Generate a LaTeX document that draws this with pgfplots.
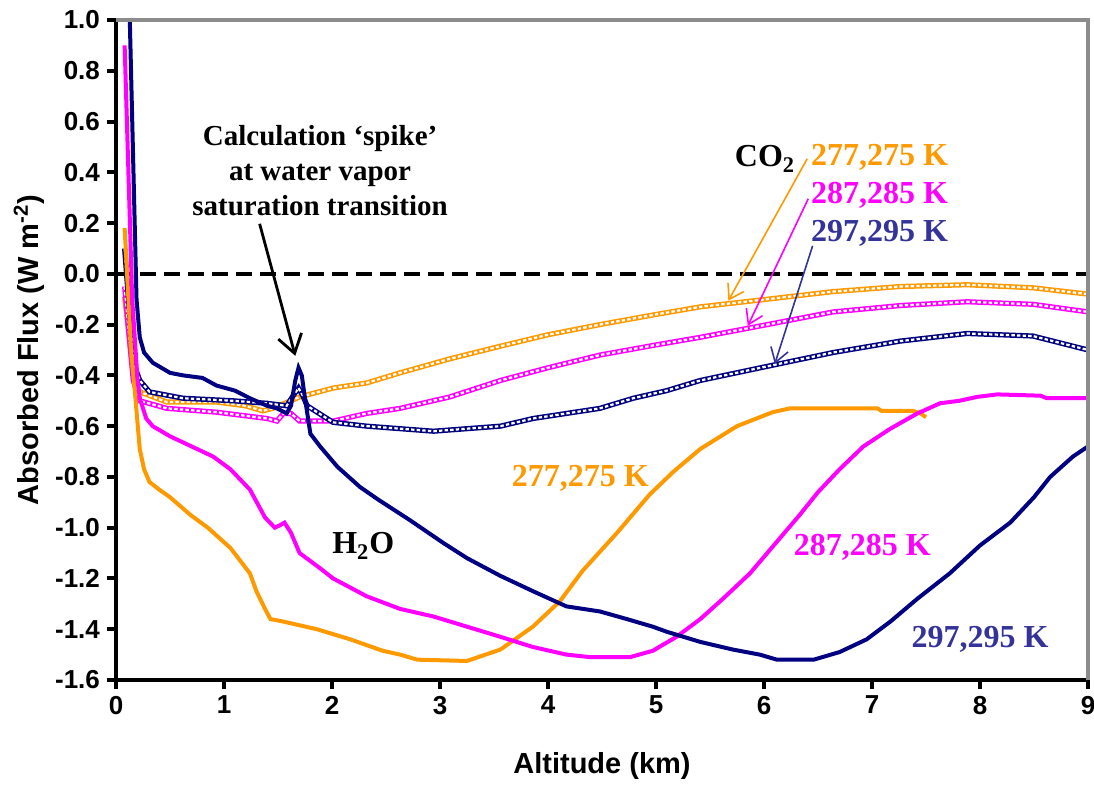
\documentclass[border=0pt]{standalone}
\usepackage{pgfplots}
\usepackage{pgfplotstable}
\pgfplotsset{compat=1.18}
\usepackage{fontspec}
\setmainfont{Liberation Serif}
\newfontfamily\arial{Liberation Sans}
\usetikzlibrary{arrows.meta}
\definecolor{cOr}{HTML}{FF9900}
\definecolor{cMa}{HTML}{FF00FF}
\definecolor{cNv}{HTML}{000080}
\definecolor{cBl}{HTML}{333399}
\definecolor{cFr}{HTML}{8C8C8C}
\pgfplotsset{
  h2o/.style={line width=2pt, mark=none},
  chain/.style={line width=2.6pt, mark=none},
  chainin/.style={white, line width=1.1pt, mark=none, dash pattern=on 1.7pt off 1.1pt},
}
\pgfplotstableread{
x y
0.08 -0.09
0.16 -0.40
0.22 -0.465
0.47 -0.505
0.93 -0.505
1.2 -0.52
1.36 -0.54
1.45 -0.53
1.70 -0.485
2.01 -0.45
2.32 -0.43
2.63 -0.39
3.09 -0.335
3.56 -0.285
4.0 -0.24
4.48 -0.20
5.0 -0.16
5.41 -0.13
6.03 -0.10
6.64 -0.07
7.26 -0.05
7.88 -0.043
8.49 -0.055
9.0 -0.08
}\coOr
\pgfplotstableread{
x y
0.08 -0.05
0.16 -0.42
0.22 -0.50
0.47 -0.53
0.93 -0.545
1.40 -0.57
1.49 -0.58
1.55 -0.55
1.62 -0.55
1.70 -0.58
2.01 -0.58
2.32 -0.55
2.63 -0.53
3.09 -0.485
3.56 -0.42
4.0 -0.37
4.48 -0.32
5.0 -0.28
5.41 -0.25
6.03 -0.20
6.64 -0.15
7.26 -0.125
7.88 -0.11
8.49 -0.12
9.0 -0.15
}\coMa
\pgfplotstableread{
x y
0.08 0.10
0.16 -0.35
0.22 -0.42
0.31 -0.465
0.62 -0.49
1.08 -0.50
1.40 -0.51
1.58 -0.52
1.64 -0.48
1.69 -0.45
1.73 -0.48
1.77 -0.52
2.01 -0.585
2.32 -0.60
2.63 -0.61
2.94 -0.62
3.25 -0.61
3.56 -0.60
3.86 -0.57
4.17 -0.55
4.48 -0.53
4.79 -0.49
5.1 -0.46
5.41 -0.42
6.08 -0.36
6.64 -0.31
7.26 -0.265
7.88 -0.235
8.49 -0.245
9.0 -0.30
}\coNv
\begin{document}
\begin{tikzpicture}
\begin{axis}[
  name=ax,
  at={(0,0)}, anchor=south west,
  scale only axis, width=486pt, height=330pt,
  xmin=0, xmax=9, ymin=-1.6, ymax=1.0,
  axis x line*=bottom, axis y line*=left,
  axis line style={-, line width=2.4pt, black},
  xtick={0,1,...,9},
  ytick={-1.6,-1.4,...,1.0},
  tick align=outside,
  major tick length=4.5pt,
  every tick/.style={black, line width=2pt},
  /pgf/number format/assume math mode=true,
  ticklabel style={font=\arial\bfseries\fontsize{13}{15}\selectfont},
  yticklabel style={/pgf/number format/.cd, fixed, fixed zerofill, precision=1},
  every axis y label/.style={at={(axis description cs:0,0.5)}, xshift=-43.5pt, rotate=90, anchor=center},
  every axis x label/.style={at={(axis description cs:0.5,0)}, yshift=-43pt, anchor=center},
  label style={font=\arial\bfseries\fontsize{14.5}{17}\selectfont},
  xlabel={Altitude (km)},
  ylabel={Absorbed Flux (W m\textsuperscript{-2})},
]
% zero line
\addplot[black, line width=2pt, dash pattern=on 8pt off 4pt] coordinates {(0,0) (9,0)};
% CO2 curves (chain style)
\addplot[cOr, chain] table[x=x,y=y] {\coOr};
\addplot[chainin] table[x=x,y=y] {\coOr};
\addplot[cMa, chain] table[x=x,y=y] {\coMa};
\addplot[chainin] table[x=x,y=y] {\coMa};
\addplot[cNv, chain] table[x=x,y=y] {\coNv};
\addplot[chainin] table[x=x,y=y] {\coNv};
% H2O curves (solid)
\addplot[cOr, h2o] coordinates {
(0.08,0.18) (0.14,-0.3) (0.18,-0.49) (0.22,-0.69) (0.26,-0.77) (0.31,-0.82) (0.4,-0.85) (0.5,-0.88)
(0.69,-0.95) (0.85,-1.0) (1.06,-1.08) (1.24,-1.18) (1.30,-1.25) (1.38,-1.32) (1.43,-1.36) (1.55,-1.37)
(1.86,-1.40) (2.17,-1.44) (2.47,-1.485) (2.63,-1.50) (2.79,-1.52) (3.25,-1.525) (3.56,-1.48) (3.86,-1.39)
(4.11,-1.29) (4.32,-1.17) (4.64,-1.02) (4.94,-0.87) (5.16,-0.78) (5.41,-0.69) (5.75,-0.60) (6.08,-0.545)
(6.24,-0.53) (7.05,-0.53) (7.09,-0.54) (7.38,-0.54) (7.45,-0.55) (7.5,-0.565)};
\addplot[cMa, h2o] coordinates {
(0.08,0.9) (0.15,-0.1) (0.2,-0.42) (0.22,-0.49) (0.28,-0.57) (0.34,-0.60) (0.5,-0.64) (0.75,-0.69)
(0.9,-0.72) (1.06,-0.77) (1.24,-0.85) (1.38,-0.96) (1.47,-1.00) (1.52,-0.99) (1.56,-0.98) (1.62,-1.02)
(1.70,-1.10) (1.89,-1.16) (2.01,-1.20) (2.32,-1.27) (2.63,-1.32) (2.94,-1.35) (3.25,-1.39) (3.56,-1.43)
(3.86,-1.47) (4.17,-1.50) (4.39,-1.51) (4.76,-1.51) (4.97,-1.485) (5.19,-1.43) (5.41,-1.36) (5.62,-1.28)
(5.87,-1.18) (6.15,-1.04) (6.33,-0.95) (6.50,-0.86) (6.70,-0.77) (6.92,-0.68) (7.17,-0.61) (7.42,-0.55)
(7.63,-0.51) (7.81,-0.50) (7.97,-0.485) (8.16,-0.475) (8.56,-0.48) (8.62,-0.49) (9.0,-0.49)};
\addplot[cNv, h2o] coordinates {
(0.125,1.05) (0.19,-0.1) (0.22,-0.25) (0.26,-0.31) (0.34,-0.35) (0.5,-0.39) (0.62,-0.40) (0.8,-0.41)
(0.93,-0.44) (1.1,-0.46) (1.24,-0.49) (1.4,-0.52) (1.49,-0.53) (1.58,-0.55) (1.62,-0.52) (1.66,-0.42)
(1.69,-0.37) (1.72,-0.40) (1.75,-0.49) (1.80,-0.63) (1.89,-0.68) (2.05,-0.76) (2.26,-0.84) (2.43,-0.89)
(2.72,-0.97) (3.03,-1.06) (3.25,-1.12) (3.56,-1.19) (3.86,-1.25) (4.17,-1.31) (4.48,-1.33) (4.73,-1.36)
(4.97,-1.39) (5.10,-1.41) (5.41,-1.45) (5.71,-1.48) (5.96,-1.50) (6.12,-1.52) (6.46,-1.52) (6.70,-1.49)
(6.95,-1.44) (7.17,-1.37) (7.42,-1.28) (7.72,-1.18) (8.0,-1.07) (8.28,-0.98) (8.5,-0.88) (8.65,-0.80)
(8.86,-0.72) (9.0,-0.68)};
% annotations
\node[align=center, font=\bfseries\fontsize{14.5}{17.5}\selectfont] at (axis cs:1.89,0.406)
  {Calculation ‘spike’\\at water vapor\\saturation transition};
\draw[black, line width=1.4pt, -{Straight Barb[length=9pt,width=12pt]}] (axis cs:1.33,0.197) -- (axis cs:1.66,-0.323);
\node[font=\bfseries\fontsize{16}{19}\selectfont] at (axis cs:6.01,0.453) {CO\textsubscript{2}};
\node[cOr, font=\bfseries\fontsize{16}{19}\selectfont] at (axis cs:7.07,0.457) {277,275 K};
\node[cMa, font=\bfseries\fontsize{16}{19}\selectfont] at (axis cs:7.07,0.311) {287,285 K};
\node[cBl, font=\bfseries\fontsize{16}{19}\selectfont] at (axis cs:7.07,0.158) {297,295 K};
\draw[cOr, line width=0.8pt, -{Straight Barb[length=7pt,width=9pt]}] (axis cs:6.40,0.453) -- (axis cs:5.67,-0.106);
\draw[cMa, line width=0.8pt, -{Straight Barb[length=7pt,width=9pt]}] (axis cs:6.41,0.296) -- (axis cs:5.85,-0.205);
\draw[cBl, line width=0.8pt, -{Straight Barb[length=7pt,width=9pt]}] (axis cs:6.45,0.110) -- (axis cs:6.10,-0.355);
\node[font=\bfseries\fontsize{16}{19}\selectfont] at (axis cs:2.29,-1.072) {H\textsubscript{2}O};
\node[cOr, font=\bfseries\fontsize{16}{19}\selectfont] at (axis cs:4.30,-0.804) {277,275 K};
\node[cMa, font=\bfseries\fontsize{16}{19}\selectfont] at (axis cs:6.91,-1.076) {287,285 K};
\node[cBl, font=\bfseries\fontsize{16}{19}\selectfont] at (axis cs:8.0,-1.442) {297,295 K};
\end{axis}
\draw[cFr, line width=2.2pt] (ax.north west) -- (ax.north east) -- (ax.south east);
\pgfresetboundingbox
\path[use as bounding box] (-58pt,-52.5pt) rectangle (489pt,340pt);
\end{tikzpicture}
\end{document}
